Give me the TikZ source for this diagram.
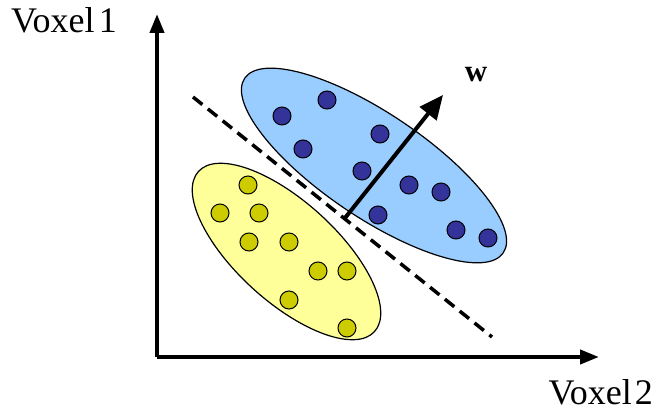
\documentclass[tikz,border=0pt]{standalone}
\usepackage{fontspec}
\setmainfont{Liberation Serif}
\usetikzlibrary{arrows.meta}
\definecolor{bluefill}{RGB}{153,204,255}
\definecolor{bluedot}{RGB}{51,51,153}
\definecolor{yelfill}{RGB}{255,255,153}
\definecolor{yeldot}{RGB}{204,204,0}
\tikzset{
  bdot/.style={circle,draw=black,line width=1pt,fill=bluedot,minimum size=18pt,inner sep=0pt},
  ydot/.style={circle,draw=black,line width=1pt,fill=yeldot,minimum size=18pt,inner sep=0pt},
  axis/.style={line width=4pt,-{Triangle[length=19pt,width=14pt]}},
  lbl/.style={font=\fontsize{36}{38}\selectfont,inner sep=0pt},
}
\begin{document}
\begin{tikzpicture}[x=1pt,y=-1pt]
\useasboundingbox (0,0) rectangle (656,419);
% ellipses
\draw[line width=1.2pt,fill=yelfill,rotate around={-42.3:(286.5,251.5)}] (286.5,251.5) ellipse [x radius=119,y radius=50];
\draw[line width=1.2pt,fill=bluefill,rotate around={-34:(374,165.5)}] (374,165.5) ellipse [x radius=156,y radius=52];
% axes
\coordinate (O) at (157,357);
\coordinate (Ytip) at (157,14);
\coordinate (Xtip) at (599,357);
\draw[axis] (O) -- (Ytip);
\draw[axis] (O) -- (Xtip);
\node[lbl,anchor=base west] (v1) at (11,33) {Voxel\hspace{0.12em}1};
\node[lbl,anchor=base east] (v2) at (653,405) {Voxel\hspace{0.08em}2};
% dashed separator
\coordinate (d1) at (193,97);
\coordinate (d2) at (492,337);
\draw[line width=3.5pt,dash pattern=on 12pt off 7pt] (d1) -- (d2);
% blue dots
\foreach \p [count=\i] in {(282,116),(327,100),(303,149),(380,134),(362,171),(409,185),(441,192),(378,215),(456,230),(488,238)}
  \node[bdot] (b\i) at \p {};
% yellow dots
\foreach \p [count=\i] in {(248,185),(220,213),(259,213),(249,242),(289,242),(318,271),(347,271),(289,300),(347,328)}
  \node[ydot] (y\i) at \p {};
% w vector
\coordinate (w0) at (345,218);
\coordinate (w1) at (443,95);
\draw[line width=4pt,-{Triangle[length=24pt,width=21pt]}] (w0) -- (w1);
\node[font=\fontsize{31}{33}\selectfont\bfseries,inner sep=0pt,anchor=base] (w) at (476,82) {w};
\end{tikzpicture}
\end{document}
